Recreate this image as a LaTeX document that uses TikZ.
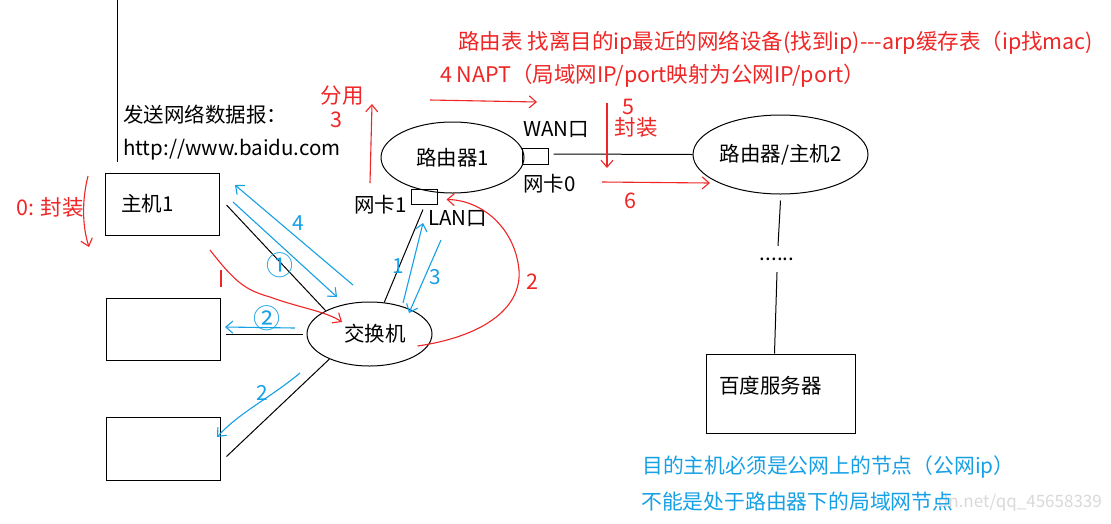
\documentclass[tikz,border=0pt]{standalone}
\usepackage{fontspec}
\setmainfont{Noto Sans CJK SC}
\usetikzlibrary{arrows.meta}
\usetikzlibrary{calc}
\usetikzlibrary{shapes.geometric}
\usetikzlibrary{positioning}

\definecolor{redpen}{RGB}{240,38,38}
\definecolor{bluepen}{RGB}{22,160,230}

\begin{document}
\begin{tikzpicture}[x=1pt, y=-1pt,
    every node/.style={font=\fontsize{20.5}{24}\selectfont, inner sep=0pt},
    box/.style={draw, line width=1pt, inner xsep=16pt, text width=82pt, minimum height=62pt, align=left},
    oval/.style={draw, ellipse, line width=1pt},
    port/.style={draw, line width=1pt, minimum width=26pt, minimum height=15pt},
    link/.style={line width=1pt},
    rednote/.style={text=redpen, font=\fontsize{21.5}{25}\selectfont},
    bluenote/.style={text=bluepen, font=\fontsize{20.8}{25}\selectfont},
    circled/.style={text=bluepen, font=\fontsize{27}{30}\selectfont},
    redline/.style={redpen, line width=1.1pt},
    blueline/.style={bluepen, line width=1.1pt},
    >={Straight Barb[length=7pt,width=12pt]}]

    \useasboundingbox[fill=white] (0,0) rectangle (1111,523);

    % hosts, switch
    \node[box] (host1) at (162,204) {主机1};
    \node[box] (host2) at (163,329) {};
    \node[box, minimum height=63pt] (host3) at (163,448.5) {};
    \node[oval, minimum width=125pt, minimum height=64pt] (switch) at (369.5,334) {\hspace*{11pt}交换机};

    % routers, server
    \node[oval, minimum width=143pt, minimum height=71pt] (router1) at (452.5,157.5) {路由器1};
    \node[port] (lan) at (424,196.5) {};
    \node[port, minimum height=16pt] (wan) at (535,156) {};
    \node[oval, minimum width=175pt, minimum height=79pt] (router2) at (780.5,154.5) {路由器/主机2};
    \node[minimum height=26pt] (dots) at (777,259) {......};
    \node[box, text width=123pt, inner xsep=13pt, minimum height=79pt, text height=12pt, text depth=12pt] (server) at (780.5,393.5) {百度服务器};

    \draw[link] (117,0) -- (117,162);
    \node[anchor=west] (sendlbl) at (123,115) {发送网络数据报：};
    \node[anchor=west] (urllbl) at (123,150) {http://www.baidu.com};

    \draw[link] ($(host1.east)+(7,1)$) -- (switch.152);
    \draw[link] ($(host2.east)+(5,5)$) -- ($(switch.west)+(-4,0)$);
    \draw[link] ($(host3.east)+(6,8)$) -- (switch.212);
    \draw[link] (switch.65) -- ($(lan.south)+(-1,5)$);
    \draw[link] ($(wan.east)+(5,-2)$) -- (router2.west);
    \draw[link] ($(router2.south)+(0,6)$) -- ($(dots.north)+(1,0)$);
    \draw[link] (dots.south) -- ($(server.north)+(-6,0)$);

    \node[anchor=east] (nic1) at (407,205) {网卡1};
    \node[anchor=west] (lanlbl) at (428,219) {LAN口};
    \node[anchor=west] (wanlbl) at (523,130) {WAN口};
    \node[anchor=west] (nic0) at (523,184) {网卡0};

    % red notes
    \node[rednote, anchor=west] (routetbl) at (458,43) {路由表 找离目的ip最近的网络设备(找到ip)-{}-{}-arp缓存表（ip找mac)};
    \node[rednote, anchor=west] (napt) at (440,76) {4 NAPT（局域网IP/port映射为公网IP/port）};
    \node[rednote] (step0) at (50,207) {0: 封装};
    \node[rednote] (demux) at (342,96) {分用};
    \node[rednote] (step3) at (336,120) {3};
    \node[rednote] (step5) at (628,107) {5};
    \node[rednote] (encap) at (636,127) {封装};
    \node[rednote] (step6) at (630,201) {6};
    \node[rednote] (step2) at (532,282) {2};

    \coordinate (r0a) at (88,176);
    \coordinate (r0b) at (89,247);
    \coordinate (r3a) at (370,183);
    \coordinate (r3b) at (372,104);
    \coordinate (r4a) at (430,100);
    \coordinate (r4b) at (537,102);
    \coordinate (r5a) at (607,103);
    \coordinate (r5b) at (607,168);
    \coordinate (r6a) at (602,182);
    \coordinate (r6b) at (710,183);
    \coordinate (r1a) at (210,250);
    \coordinate (r1b) at (342,322);

    \draw[redline, ->] (r0a) .. controls (82,200) and (82,225) .. (r0b);
    \draw[redline, ->] (r3a) -- (r3b);
    \draw[redline, ->] (r4a) -- (r4b);
    \draw[redline, ->] (r5a) -- (r5b);
    \draw[redline, ->] (r6a) -- (r6b);
    \draw[redline, ->] (r1a) .. controls (235,282) and (245,290) .. (270,297)
        .. controls (300,308) and (325,311) .. (r1b);
    \draw[redline] (221,270) -- (221,287);
    \draw[redline, ->] ($(switch.east)+(-15,12)$) .. controls (480,337) and (522,310) .. (519,270)
        .. controls (515,228) and (482,200) .. ($(lan.east)+(9,3)$);

    % blue notes
    \coordinate (b4a) at (353,285);
    \coordinate (b4b) at (235,185);
    \coordinate (b1a) at (233,202);
    \coordinate (b1b) at (337,297);
    \coordinate (b2a) at (295,328);
    \coordinate (b2b) at (225,327);
    \coordinate (b3a) at (300,373);
    \coordinate (b3b) at (217,437);
    \coordinate (bupa) at (403,303);
    \coordinate (bupb) at (423,223);
    \coordinate (bdna) at (441,240);
    \coordinate (bdnb) at (409,313);

    \draw[blueline, ->] (b4a) -- (b4b);
    \draw[blueline, ->] (b1a) -- (b1b);
    \draw[blueline, ->] (b2a) -- (b2b);
    \draw[blueline, ->] (b3a) .. controls (270,398) and (240,412) .. (b3b);
    \draw[blueline, ->] (bupa) -- (bupb);
    \draw[blueline, ->] (bdna) -- (bdnb);

    \node[bluenote] (blue4) at (298,223) {4};
    \node[circled] (blue1c) at (280,265) {①};
    \node[circled] (blue2c) at (267,318) {②};
    \node[bluenote] (blue2) at (262,393) {2};
    \node[bluenote] (blue1) at (398,266) {1};
    \node[bluenote] (blue3) at (435,277) {3};

    \node[text=gray!30, anchor=east, font=\fontsize{17}{20}\selectfont] (mark) at (1102,503) {dn.net/qq\_45658339};
    \node[bluenote, anchor=west] (rule1) at (642,467) {目的主机必须是公网上的节点（公网ip）};
    \node[bluenote, anchor=west] (rule2) at (641,502) {不能是处于路由器下的局域网节点};

\end{tikzpicture}
\end{document}
